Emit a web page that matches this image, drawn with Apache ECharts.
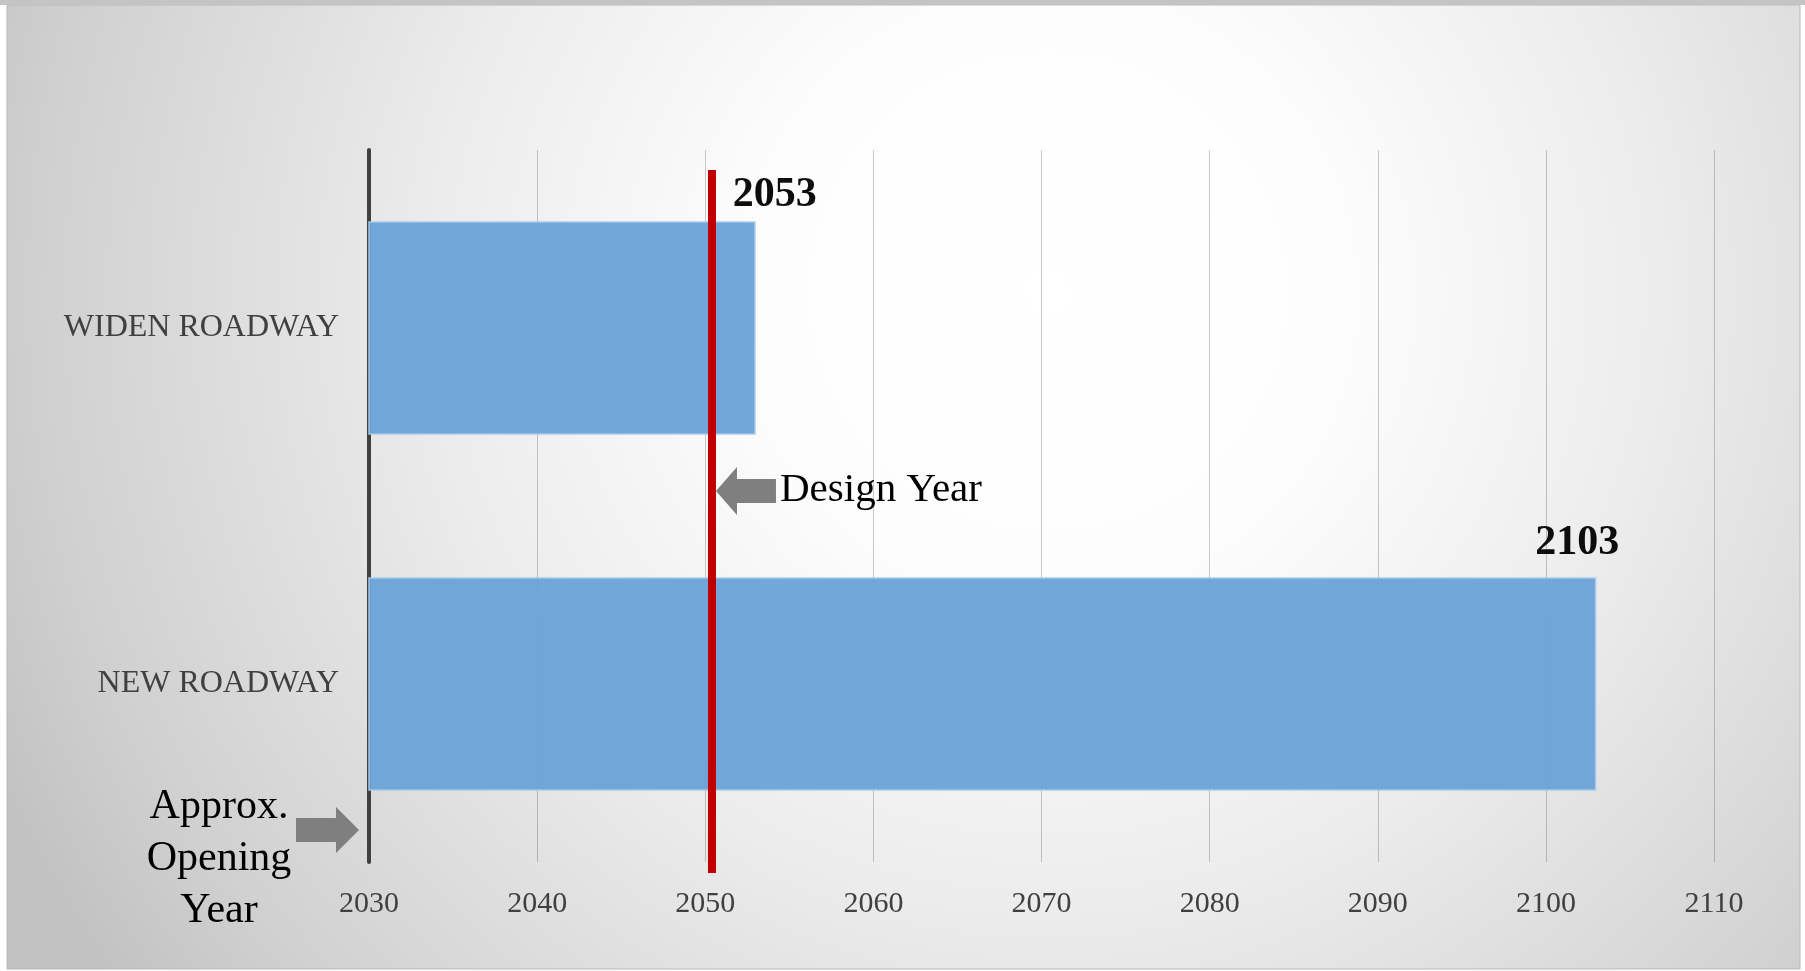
<!DOCTYPE html>
<html>
<head>
<meta charset="utf-8">
<title>Design Year</title>
<script src="https://cdn.jsdelivr.net/npm/echarts@6/dist/echarts.min.js"></script>
<style>
  html, body { margin: 0; padding: 0; background: #fff; }
  #main { width: 1805px; height: 971px; }
</style>
</head>
<body>
<div id="main"></div>
<script>
// data
var categories = ['WIDEN ROADWAY', 'NEW ROADWAY'];
var endYears = [2053, 2103];
var openingYear = 2030;
var designYear = 2050.4;
var yearMin = 2030, yearMax = 2110, yearStep = 10;

// label nudges (x, y) for each bar's end-year label
var labelNudge = [[19, -133], [-19, -141]];

var serif = '"Liberation Serif", "DejaVu Serif", serif';

(function () {
  var myChart = echarts.init(document.getElementById('main'));

  var barData = endYears.map(function (v, i) {
    return {
      value: v,
      label: { offset: labelNudge[i] }
    };
  });

  var option = {
    backgroundColor: '#ffffff',
    animation: false,
    graphic: [
      {
        type: 'rect',
        z: -100,
        shape: { x: 7, y: 5, width: 1793, height: 964 },
        style: {
          fill: new echarts.graphic.RadialGradient(0.58, 0.3, 1.2, [
            { offset: 0, color: '#ffffff' },
            { offset: 0.25, color: '#fdfdfd' },
            { offset: 0.53, color: '#ececec' },
            { offset: 0.87, color: '#d0d0d0' },
            { offset: 1, color: '#c2c2c2' }
          ]),
          stroke: '#b9b9b9',
          lineWidth: 1
        }
      },
      {
        type: 'rect',
        z: -99,
        shape: { x: 0, y: 0, width: 1805, height: 5 },
        style: { fill: '#c4c4c4' }
      }
    ],
    grid: { left: 369, right: 91, top: 150, bottom: 109 },
    xAxis: {
      type: 'value',
      min: yearMin,
      max: yearMax,
      interval: yearStep,
      axisLine: { show: false },
      axisTick: { show: false },
      axisLabel: {
        margin: 27,
        color: '#404040',
        fontSize: 30,
        fontFamily: serif,
        formatter: function (v) { return String(v); }
      },
      splitLine: { lineStyle: { color: 'rgba(0,0,0,0.2)', width: 1 } }
    },
    yAxis: {
      type: 'category',
      inverse: true,
      data: categories,
      axisLine: { show: true, lineStyle: { color: '#404040', width: 4 } },
      axisTick: { show: false },
      axisLabel: {
        margin: 30,
        color: '#404040',
        fontSize: 32,
        fontFamily: serif
      }
    },
    series: [
      {
        type: 'bar',
        data: barData,
        barCategoryGap: '40%',
        itemStyle: {
          color: '#6aa2d8',
          opacity: 0.95,
          borderColor: '#a9c9ea',
          borderWidth: 1.5
        },
        label: {
          show: true,
          position: 'right',
          distance: 0,
          align: 'center',
          verticalAlign: 'middle',
          color: '#000',
          fontWeight: 'bold',
          fontSize: 42,
          fontFamily: serif
        },
        z: 2
      },
      {
        // design year line + the two call-out arrows
        type: 'custom',
        silent: true,
        clip: false,
        z: 5,
        encode: { x: 0, y: 1 },
        data: [[designYear, 0], [openingYear, 1]],
        renderItem: function (params, api) {
          var cs = params.coordSys;
          var x = api.coord([api.value(0), api.value(1)])[0];
          var bottom = cs.y + cs.height;
          if (params.dataIndex === 0) {
            var tx = x + 4;
            var cy = cs.y + cs.height * 0.479;
            return {
              type: 'group',
              children: [
                {
                  type: 'rect',
                  shape: { x: x - 4, y: cs.y + 20, width: 8, height: cs.height - 9 },
                  style: { fill: '#c00000' }
                },
                {
                  type: 'polygon',
                  shape: {
                    points: [
                      [tx, cy], [tx + 21, cy - 24], [tx + 21, cy - 12], [tx + 60, cy - 12],
                      [tx + 60, cy + 12], [tx + 21, cy + 12], [tx + 21, cy + 24]
                    ]
                  },
                  style: { fill: '#7f7f7f' }
                },
                {
                  type: 'text',
                  style: {
                    x: tx + 64,
                    y: cy - 1,
                    text: 'Design Year',
                    fill: '#000',
                    font: '41px ' + serif,
                    align: 'left',
                    verticalAlign: 'middle'
                  }
                }
              ]
            };
          }
          var tip = x - 10;
          var ay = bottom - 32;
          return {
            type: 'group',
            children: [
              {
                type: 'polygon',
                shape: {
                  points: [
                    [tip, ay], [tip - 23, ay - 23], [tip - 23, ay - 12], [tip - 63, ay - 12],
                    [tip - 63, ay + 12], [tip - 23, ay + 12], [tip - 23, ay + 23]
                  ]
                },
                style: { fill: '#7f7f7f' }
              },
              {
                type: 'text',
                style: {
                  x: x - 150,
                  y: bottom - 3,
                  text: 'Approx.\nOpening\nYear',
                  fill: '#000',
                  font: '42px ' + serif,
                  lineHeight: 52,
                  align: 'center',
                  verticalAlign: 'middle'
                }
              }
            ]
          };
        }
      }
    ]
  };

  myChart.setOption(option);
  window.addEventListener('resize', function () {
    myChart.resize();
  });
})();
</script>
</body>
</html>
